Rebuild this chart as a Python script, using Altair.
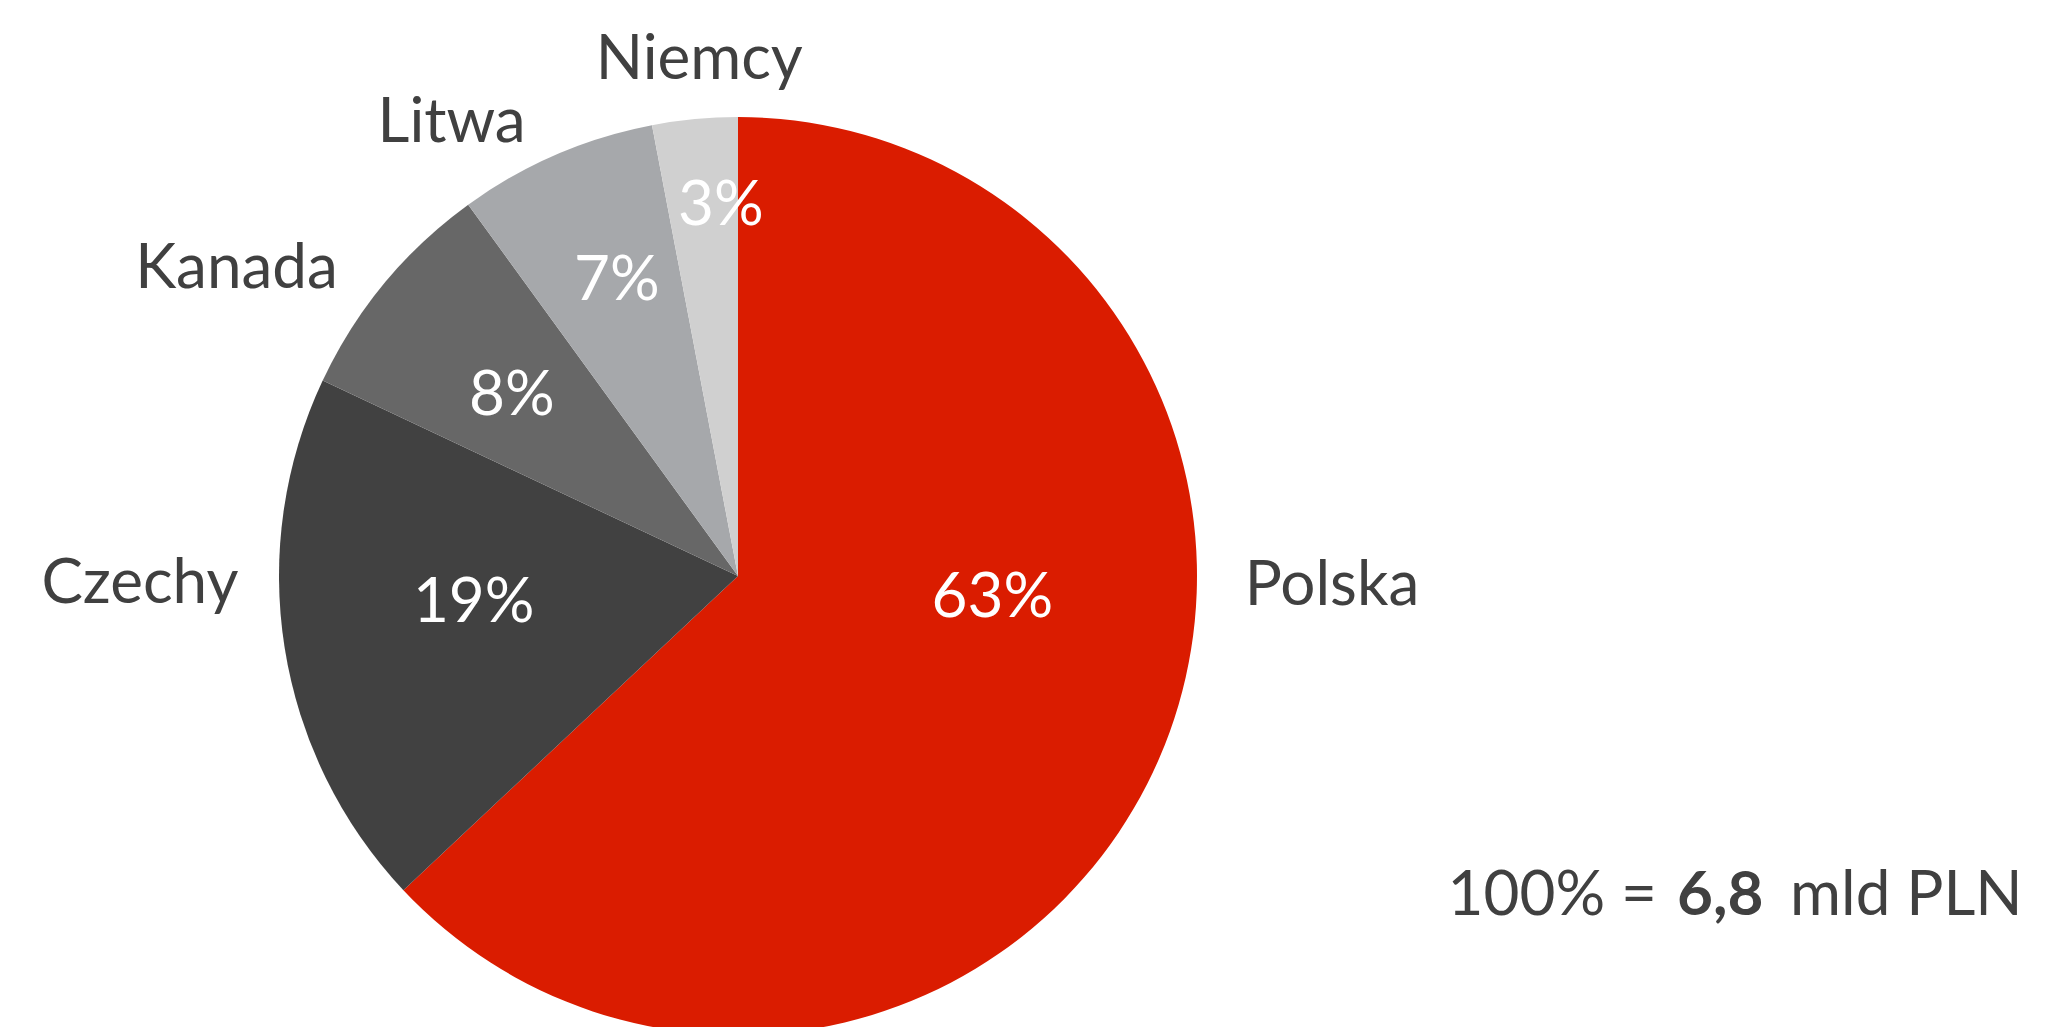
import altair as alt
import pandas as pd

countries = ["Polska", "Czechy", "Kanada", "Litwa", "Niemcy"]
values = [63, 19, 8, 7, 3]
colors = ["#DA1C00", "#414141", "#676767", "#A6A8AB", "#D0D0D0"]
total_prefix = "100% ="
total_value = "6,8"
total_suffix = "mld PLN"

df = pd.DataFrame({
    "country": countries,
    "value": values,
    "order": list(range(len(countries))),
    "label": [f"{v}%" for v in values],
})

FONT = "Lato"
FS = 62
TXT = "#404040"
R = 459

theta_scale = alt.Scale(domain=[0, 100])

base = (
    alt.Chart(df)
    .transform_stack(stack="value", groupby=[], as_=["start", "end"],
                     sort=[alt.SortField("order", order="ascending")])
    .transform_calculate(mid="(datum.start + datum.end) / 2")
)

arc = base.mark_arc(outerRadius=R, strokeWidth=0).encode(
    theta=alt.Theta("start:Q", scale=theta_scale, stack=None),
    theta2="end:Q",
    color=alt.Color("country:N", scale=alt.Scale(domain=countries, range=colors), legend=None),
)

# per-label nudges (styling offsets relative to the slice mid-angle)
pct_off = {"Polska": (-21, -78), "Czechy": (32, -1), "Kanada": (5, 30),
           "Litwa": (-2, -1), "Niemcy": (11, -52)}
name_off = {"Polska": (80, -193), "Czechy": (-45, -61), "Kanada": (-70, 69),
            "Litwa": (-64, 80), "Niemcy": (14, 61)}

layers = [arc]
for c in countries:
    dx, dy = pct_off[c]
    layers.append(
        base.transform_filter(alt.datum.country == c)
        .mark_text(radius=300, dx=dx, dy=dy, font=FONT, fontSize=FS, color="white",
                   baseline="alphabetic", align="center")
        .encode(theta=alt.Theta("mid:Q", scale=theta_scale, stack=None), text="label:N")
    )
    dx, dy = name_off[c]
    layers.append(
        base.transform_filter(alt.datum.country == c)
        .mark_text(radius=560, dx=dx, dy=dy, font=FONT, fontSize=FS, color=TXT,
                   baseline="alphabetic", align="center")
        .encode(theta=alt.Theta("mid:Q", scale=theta_scale, stack=None), text="country:N")
    )

ann_df = pd.DataFrame({"a": [total_prefix], "b": [total_value], "c": [total_suffix]})
ann = alt.Chart(ann_df)
layers.append(ann.mark_text(font=FONT, fontSize=FS, color=TXT, align="right", baseline="alphabetic")
              .encode(x=alt.value(1649), y=alt.value(907), text="a:N"))
layers.append(ann.mark_text(font=FONT, fontSize=FS, color=TXT, fontWeight="bold", align="left",
                            baseline="alphabetic")
              .encode(x=alt.value(1669), y=alt.value(907), text="b:N"))
layers.append(ann.mark_text(font=FONT, fontSize=FS, color=TXT, align="left", baseline="alphabetic")
              .encode(x=alt.value(1782), y=alt.value(907), text="c:N"))

chart = (
    alt.layer(*layers)
    .properties(width=1460, height=1136, padding=0, background="white")
    .configure_view(stroke=None)
)

chart.save("out.html", embed_options={"renderer": "svg", "actions": False})
